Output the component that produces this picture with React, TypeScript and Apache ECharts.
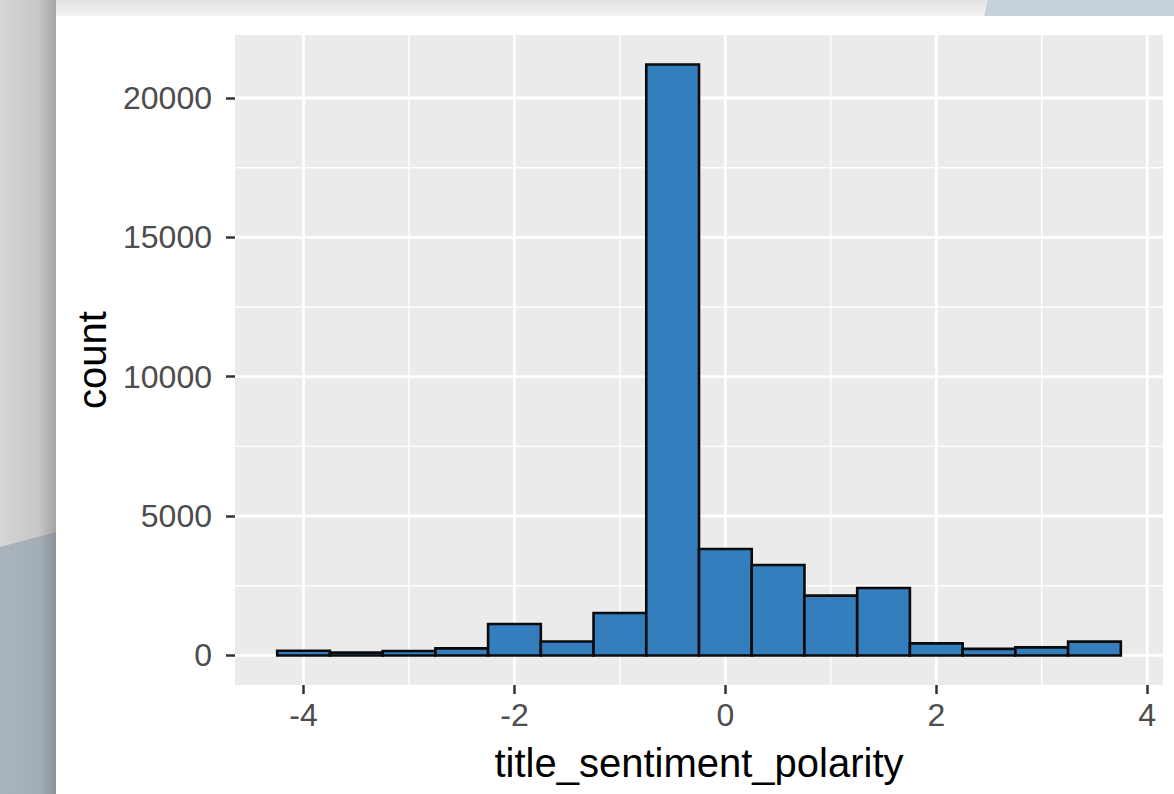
import React, { useEffect, useRef } from "react";
import * as echarts from "echarts";

// ---- data ----
const binWidth = 0.5;
const binCenters = [-4, -3.5, -3, -2.5, -2, -1.5, -1, -0.5, 0, 0.5, 1, 1.5, 2, 2.5, 3, 3.5];
const counts = [170, 100, 160, 255, 1130, 500, 1525, 21200, 3820, 3245, 2145, 2420, 435, 235, 290, 495];

const xTicks = [-4, -2, 0, 2, 4];
const xMinorTicks = [-3, -1, 1, 3];
const yTicks = [0, 5000, 10000, 15000, 20000];
const yMinorTicks = [2500, 7500, 12500, 17500];

const X_MIN = -4.65;
const X_MAX = 4.15;
const Y_MIN = -1060;
const Y_MAX = 22260;

const FONT = "Liberation Sans, Arial, Helvetica, sans-serif";

export default function App() {
  const ref = useRef<HTMLDivElement>(null);

  useEffect(() => {
    if (!ref.current) return;
    const chart = echarts.init(ref.current, null, { renderer: "svg" });

    const vLine = (w: number) => (params: any, api: any) => {
      const v = api.value(0);
      const p0 = api.coord([v, Y_MIN]);
      const p1 = api.coord([v, Y_MAX]);
      return {
        type: "line",
        shape: { x1: p0[0], y1: p0[1], x2: p1[0], y2: p1[1] },
        style: { stroke: "#ffffff", lineWidth: w },
      };
    };
    const hLine = (w: number) => (params: any, api: any) => {
      const v = api.value(1);
      const p0 = api.coord([X_MIN, v]);
      const p1 = api.coord([X_MAX, v]);
      return {
        type: "line",
        shape: { x1: p0[0], y1: p0[1], x2: p1[0], y2: p1[1] },
        style: { stroke: "#ffffff", lineWidth: w },
      };
    };

    const option: any = {
      animation: false,
      backgroundColor: "transparent",
      graphic: [
        {
          type: "rect",
          z: -10,
          shape: { x: 0, y: 0, width: 1174, height: 16 },
          style: {
            fill: new echarts.graphic.LinearGradient(0, 0, 0, 1, [
              { offset: 0, color: "#e2e2e2" },
              { offset: 1, color: "#f3f3f3" },
            ]),
          },
        },
        {
          type: "rect",
          z: -10,
          shape: { x: 0, y: 0, width: 56, height: 794 },
          style: {
            fill: new echarts.graphic.LinearGradient(0, 0, 1, 0, [
              { offset: 0, color: "#d6d6d6" },
              { offset: 0.7, color: "#c6c6c6" },
              { offset: 1, color: "#a4a4a4" },
            ]),
          },
        },
        {
          type: "polygon",
          z: -9,
          shape: { points: [[0, 547], [56, 532], [56, 794], [0, 794]] },
          style: {
            fill: new echarts.graphic.LinearGradient(0, 0, 1, 0, [
              { offset: 0, color: "#aab4bc" },
              { offset: 0.7, color: "#a3adb5" },
              { offset: 1, color: "#8a939b" },
            ]),
          },
        },
        {
          type: "polygon",
          z: -9,
          shape: { points: [[988, 0], [1174, 0], [1174, 16], [984, 16]] },
          style: { fill: "#c6d0d9" },
        },
      ],
      grid: {
        left: 235,
        top: 35,
        width: 928,
        height: 650,
        show: true,
        backgroundColor: "#EBEBEB",
        borderWidth: 0,
        containLabel: false,
        outerBoundsMode: "none",
      },
      xAxis: {
        type: "value",
        min: X_MIN,
        max: X_MAX,
        name: "title_sentiment_polarity",
        nameLocation: "middle",
        nameGap: 58,
        nameTextStyle: { fontSize: 40, color: "#000000", fontFamily: FONT },
        axisLine: { show: false, onZero: false },
        splitLine: { show: false },
        axisTick: {
          show: true,
          length: 9,
          lineStyle: { color: "#333333", width: 2.5 },
          customValues: xTicks,
        },
        axisLabel: {
          show: true,
          margin: 14,
          fontSize: 32,
          color: "#4D4D4D",
          fontFamily: FONT,
          customValues: xTicks,
          formatter: (v: number) => String(v),
        },
      },
      yAxis: {
        type: "value",
        min: Y_MIN,
        max: Y_MAX,
        name: "count",
        nameLocation: "middle",
        nameGap: 122,
        nameRotate: 90,
        nameTextStyle: { fontSize: 40, color: "#000000", fontFamily: FONT },
        axisLine: { show: false, onZero: false },
        splitLine: { show: false },
        axisTick: {
          show: true,
          length: 9,
          lineStyle: { color: "#333333", width: 2.5 },
          customValues: yTicks,
        },
        axisLabel: {
          show: true,
          margin: 23,
          fontSize: 32,
          color: "#4D4D4D",
          fontFamily: FONT,
          customValues: yTicks,
          formatter: (v: number) => String(v),
        },
      },
      series: [
        {
          type: "custom",
          z: 1,
          silent: true,
          data: xMinorTicks.map((v) => [v, 0]),
          renderItem: vLine(1.4),
        },
        {
          type: "custom",
          z: 1,
          silent: true,
          data: yMinorTicks.map((v) => [0, v]),
          renderItem: hLine(1.4),
        },
        {
          type: "custom",
          z: 1,
          silent: true,
          data: xTicks.map((v) => [v, 0]),
          renderItem: vLine(2.8),
        },
        {
          type: "custom",
          z: 1,
          silent: true,
          data: yTicks.map((v) => [0, v]),
          renderItem: hLine(2.8),
        },
        {
          type: "custom",
          z: 2,
          data: binCenters.map((c, i) => [c, counts[i]]),
          renderItem: (params: any, api: any) => {
            const x = api.value(0);
            const c = api.value(1);
            const p0 = api.coord([x - binWidth / 2, c]);
            const p1 = api.coord([x + binWidth / 2, 0]);
            return {
              type: "rect",
              shape: { x: p0[0], y: p0[1], width: p1[0] - p0[0], height: p1[1] - p0[1] },
              style: { fill: "#357EBD", stroke: "#0B0B0B", lineWidth: 2.6 },
            };
          },
        },
      ],
    };

    chart.setOption(option);
    return () => chart.dispose();
  }, []);

  return (
    <div
      ref={ref}
      style={{ position: "absolute", left: 0, top: 0, width: 1174, height: 794 }}
    />
  );
}
